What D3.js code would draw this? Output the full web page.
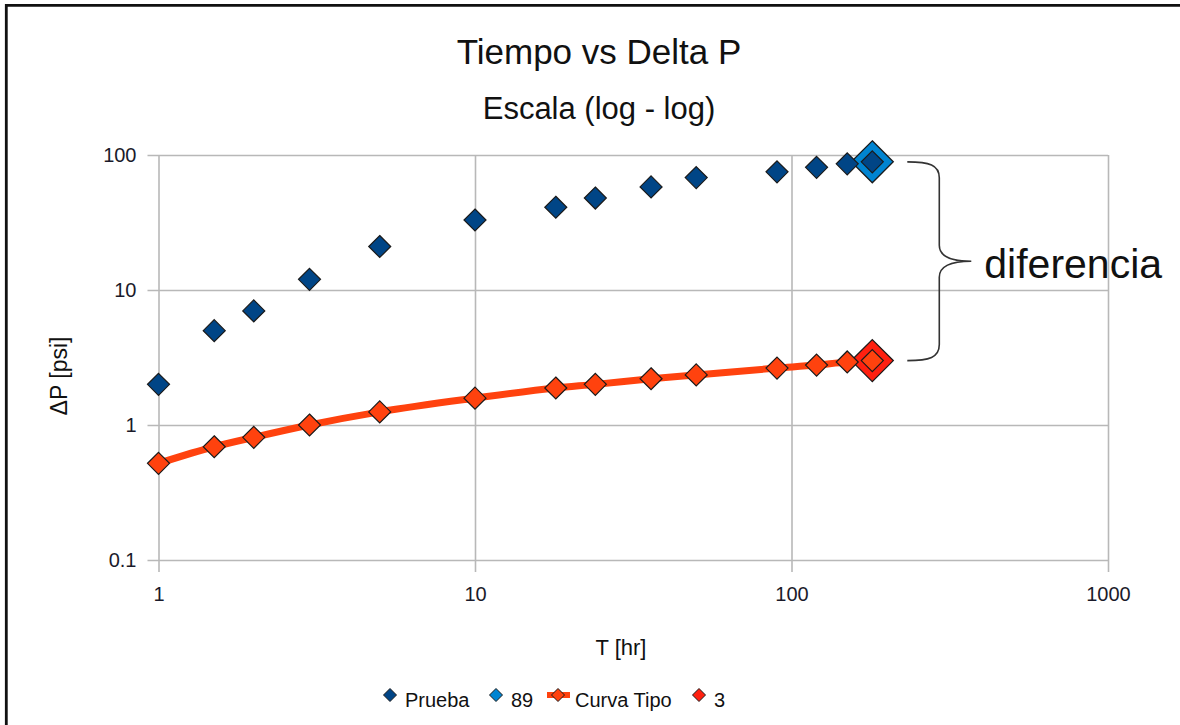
<!DOCTYPE html>
<html><head><meta charset="utf-8">
<script src="https://cdn.jsdelivr.net/npm/d3@7"></script>
<style>
html,body{margin:0;padding:0;background:#fff;overflow:hidden;}
svg{display:block;font-family:"Liberation Sans",Arial,sans-serif;}
</style></head>
<body><svg id="c" width="1180" height="725"></svg>
<script>
// ---- data ----
const tiempo = [1, 1.5, 2, 3, 5, 10, 18, 24, 36, 50, 90, 120, 150, 180];
const prueba = [2, 5, 7, 12, 21, 33, 41, 48, 58, 68, 75, 81, 86, 89];
const curvaTipo = [0.52, 0.69, 0.81, 1.0, 1.25, 1.58, 1.88, 2.0, 2.2, 2.35, 2.64, 2.78, 2.93, 3.0];
const punto89 = [{t: 180, v: 89}];
const punto3 = [{t: 180, v: 3}];
const xTicks = [1, 10, 100, 1000];
const yTicks = [0.1, 1, 10, 100];
const legendItems = ["Prueba", "89", "Curva Tipo", "3"];
const titleText = "Tiempo vs Delta P";
const subtitleText = "Escala (log - log)";
const xLabel = "T [hr]";
const yLabel = "ΔP [psi]";
const noteText = "diferencia";

const col = {prueba: "#004586", p89: "#0084d1", curva: "#ff420e", p3: "#ff2010"};

const svg = d3.select("#c");
// frame (top and left edges visible)
svg.append("path").attr("d", "M6.3,730V5.4H1190")
  .attr("fill", "none").attr("stroke", "#111").attr("stroke-width", 2.8);

const L = 158.5, R = 1108, T = 155, B = 560;
const x = d3.scaleLog().domain([1, 1000]).range([L, R]);
const y = d3.scaleLog().domain([0.1, 100]).range([B, T]);

// y axis with gridlines
const gy = svg.append("g").attr("transform", `translate(${L - 11},0)`)
  .call(d3.axisLeft(y).tickValues(yTicks).tickSizeInner(-(R - L + 11)).tickSizeOuter(0)
    .tickPadding(11).tickFormat(d => String(d)));
gy.select(".domain").remove();
gy.selectAll(".tick line").attr("stroke", "#b8b8b8").attr("stroke-width", 1.6);
gy.selectAll(".tick text").attr("font-size", 20).attr("fill", "#1a1a2a")
  .attr("font-family", "Liberation Sans, Arial, sans-serif");

// x axis with gridlines
const gx = svg.append("g").attr("transform", `translate(0,${B + 12})`)
  .call(d3.axisBottom(x).tickValues(xTicks).tickSizeInner(-(B + 12 - T)).tickSizeOuter(0)
    .tickPadding(15).tickFormat(d => String(d)));
gx.select(".domain").remove();
gx.selectAll(".tick line").attr("stroke", "#b8b8b8").attr("stroke-width", 1.6);
gx.selectAll(".tick text").attr("font-size", 20).attr("fill", "#1a1a2a")
  .attr("font-family", "Liberation Sans, Arial, sans-serif");

// titles
svg.append("text").attr("x", 599).attr("y", 64).attr("text-anchor", "middle")
  .attr("font-size", 35).attr("fill", "#111").text(titleText);
svg.append("text").attr("x", 599).attr("y", 119).attr("text-anchor", "middle")
  .attr("font-size", 31).attr("fill", "#111").text(subtitleText);
svg.append("text").attr("x", 621).attr("y", 655).attr("text-anchor", "middle")
  .attr("font-size", 22).attr("fill", "#111").text(xLabel);
svg.append("text").attr("transform", "translate(67,376) rotate(-90)").attr("text-anchor", "middle")
  .attr("font-size", 23).attr("fill", "#111").text(yLabel);

// diamond helper
const diamond = (half) => `M0,${-half}L${half},0L0,${half}L${-half},0Z`;

// curve line
const curveData = tiempo.map((t, i) => ({t, v: curvaTipo[i]}));
const pruebaData = tiempo.map((t, i) => ({t, v: prueba[i]}));
svg.append("path").datum(curveData)
  .attr("fill", "none").attr("stroke", col.curva).attr("stroke-width", 7).attr("stroke-linejoin", "round")
  .attr("d", d3.line().x(d => x(d.t)).y(d => y(d.v)).curve(d3.curveMonotoneX));

// big highlight markers
svg.selectAll(".p89").data(punto89).join("path")
  .attr("transform", d => `translate(${x(d.t)},${y(d.v)})`)
  .attr("d", diamond(21)).attr("fill", col.p89).attr("stroke", "#1a1a1a").attr("stroke-width", 1.3);
svg.selectAll(".p3").data(punto3).join("path")
  .attr("transform", d => `translate(${x(d.t)},${y(d.v)})`)
  .attr("d", diamond(21)).attr("fill", col.p3).attr("stroke", "#1a1a1a").attr("stroke-width", 1.3);

// series markers
svg.selectAll(".pr").data(pruebaData).join("path")
  .attr("transform", d => `translate(${x(d.t)},${y(d.v)})`)
  .attr("d", diamond(11)).attr("fill", col.prueba).attr("stroke", "#1a1a1a").attr("stroke-width", 1.2);
svg.selectAll(".cv").data(curveData).join("path")
  .attr("transform", d => `translate(${x(d.t)},${y(d.v)})`)
  .attr("d", diamond(11)).attr("fill", col.curva).attr("stroke", "#1a1a1a").attr("stroke-width", 1.2);

// brace annotation
const yTop = y(punto89[0].v), yBot = y(punto3[0].v), yMid = (yTop + yBot) / 2;
const x0 = x(180) + 35, xm = x0 + 32, xp = xm + 32;
const bp = d3.path();
bp.moveTo(x0, yTop);
bp.bezierCurveTo(x0 + 22, yTop, xm, yTop + 3, xm, yTop + 16);
bp.lineTo(xm, yMid - 16);
bp.quadraticCurveTo(xm, yMid, xp, yMid);
bp.quadraticCurveTo(xm, yMid, xm, yMid + 16);
bp.lineTo(xm, yBot - 16);
bp.bezierCurveTo(xm, yBot - 3, x0 + 22, yBot, x0, yBot);
svg.append("path").attr("d", bp.toString()).attr("fill", "none")
  .attr("stroke", "#333").attr("stroke-width", 1.6);
svg.append("text").attr("x", xp + 13).attr("y", yMid + 17).attr("font-size", 41)
  .attr("fill", "#111").text(noteText);

// legend
const lg = svg.append("g").attr("font-size", 20).attr("fill", "#111");
const legPos = [390, 496, 558, 699];
const legFill = [col.prueba, col.p89, col.curva, col.p3];
legendItems.forEach((name, i) => {
  const cx = legPos[i], cy = 695;
  if (i === 2) {
    lg.append("line").attr("x1", cx - 11).attr("x2", cx + 12).attr("y1", cy).attr("y2", cy)
      .attr("stroke", col.curva).attr("stroke-width", 6);
  }
  lg.append("path").attr("transform", `translate(${cx},${cy})`).attr("d", diamond(6.5))
    .attr("fill", legFill[i]).attr("stroke", "#1a1a1a").attr("stroke-width", 1);
  lg.append("text").attr("x", cx + (i === 2 ? 17 : 15)).attr("y", 707).text(name);
});
</script>
</body></html>
